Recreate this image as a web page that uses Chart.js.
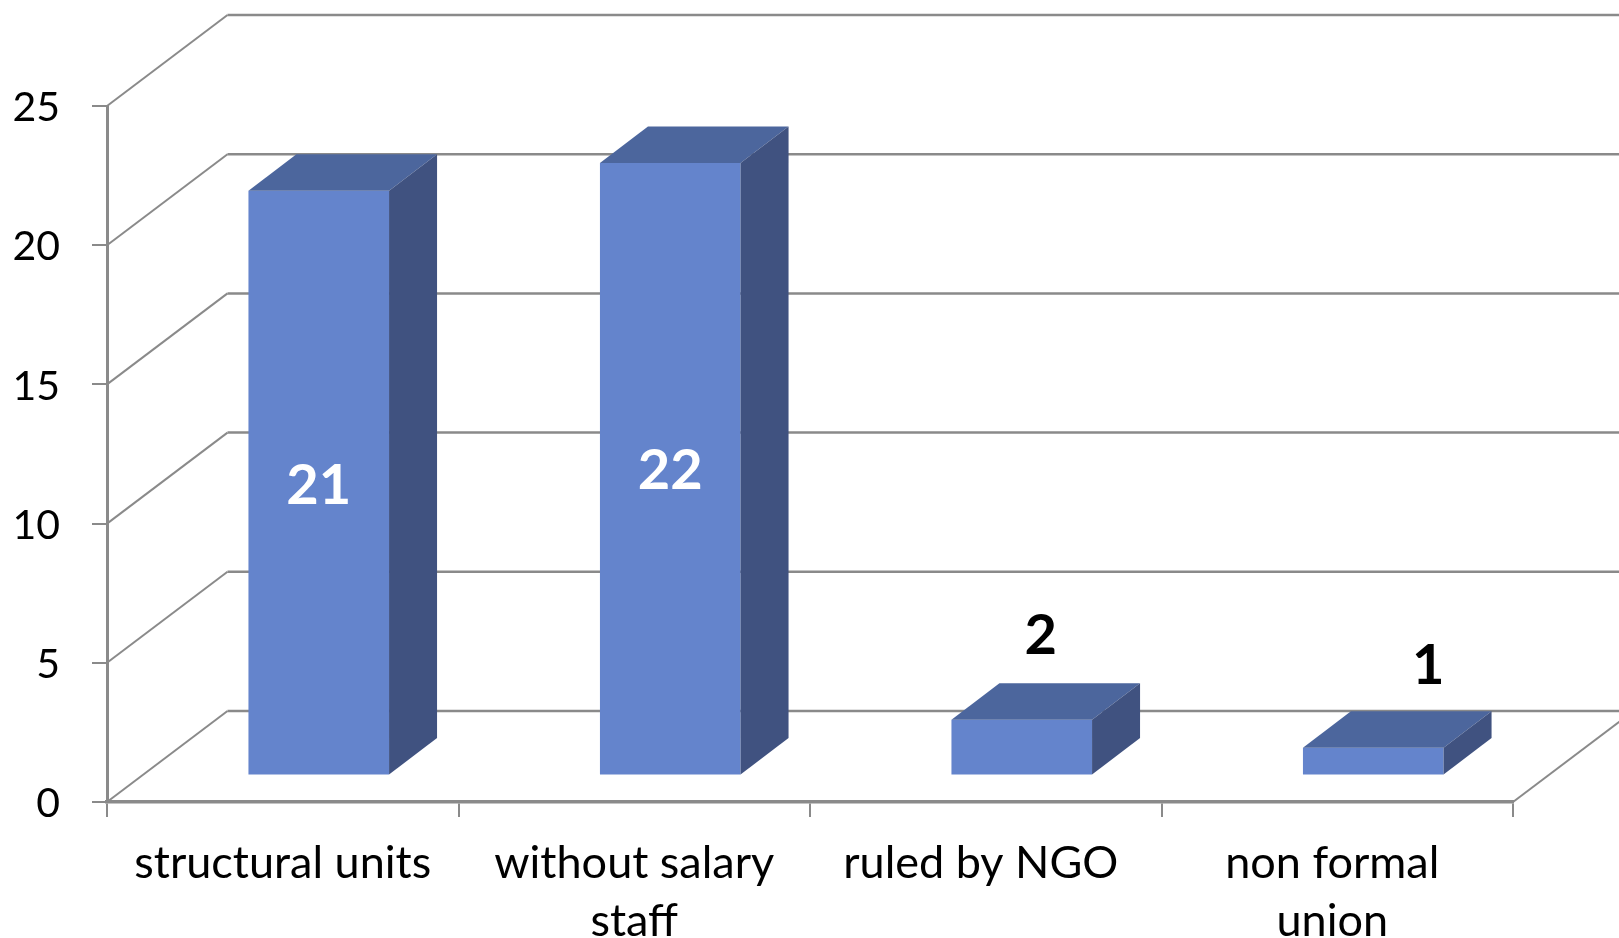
<!DOCTYPE html>
<html>
<head>
<meta charset="utf-8">
<title>Chart</title>
<script src="https://cdn.jsdelivr.net/npm/chart.js@4/dist/chart.umd.js"></script>
<style>
  html, body { margin: 0; padding: 0; background: #fff; overflow: hidden; }
  canvas { display: block; }
</style>
</head>
<body>
<canvas id="chart" width="1619" height="938"></canvas>
<script>
const categories = [["structural units"], ["without salary", "staff"], ["ruled by NGO"], ["non formal", "union"]];
const values = [21, 22, 2, 1];
const yTicks = [0, 5, 10, 15, 20, 25];

const axisColor = "#8a8a8a";
const frontColor = "#6484CC";
const topColor = "#4C669D";
const sideColor = "#405280";

// 3d look: bars sit a bit inside the floor, walls sit further back
const barShift = { x: 36, y: -26.5 };
const barDepth = { x: 48, y: -36.5 };
const wallShift = { x: 120.5, y: -91 };
// hand placed labels in the original, offset from the bar front centre
const labelNudge = [
    { x: 0, y: 3, inside: true },
    { x: 0, y: 2, inside: true },
    { x: 19, y: -84, inside: false },
    { x: 55, y: -82, inside: false }
];
// the last two category labels sit a little left of their slot
const xLabelNudge = [0, 0, -5, -5];

const walls = {
    id: "walls",
    beforeDraw(chart) {
        chart.scales.x.getLabelItems().forEach((item, i) => {
            if (!item.nudged) {
                item.options.translation[0] += xLabelNudge[i];
                item.nudged = true;
            }
        });
    },
    beforeDatasetsDraw(chart) {
        const ctx = chart.ctx;
        const yScale = chart.scales.y;
        const left = chart.chartArea.left;
        const right = chart.chartArea.right;
        ctx.save();
        ctx.strokeStyle = axisColor;
        yTicks.forEach((tick) => {
            const py = yScale.getPixelForValue(tick);
            ctx.lineWidth = 2;
            ctx.beginPath();
            ctx.moveTo(left, py);
            ctx.lineTo(left + wallShift.x, py + wallShift.y);
            ctx.stroke();
            ctx.lineWidth = 2.5;
            ctx.beginPath();
            ctx.moveTo(left + wallShift.x, py + wallShift.y);
            ctx.lineTo(right + wallShift.x, py + wallShift.y);
            ctx.stroke();
        });
        const zero = yScale.getPixelForValue(0);
        ctx.lineWidth = 2;
        ctx.beginPath();
        ctx.moveTo(right, zero);
        ctx.lineTo(right + wallShift.x, zero + wallShift.y);
        ctx.stroke();
        ctx.restore();

        ctx.save();
        ctx.translate(barShift.x, barShift.y);
    },
    afterDatasetsDraw(chart) {
        const ctx = chart.ctx;
        ctx.restore();

        const bars = chart.getDatasetMeta(0).data;
        bars.forEach((bar, i) => {
            const x0 = bar.x - bar.width / 2 + barShift.x;
            const x1 = bar.x + bar.width / 2 + barShift.x;
            const top = bar.y + barShift.y;
            const bottom = bar.base + barShift.y;

            ctx.fillStyle = topColor;
            ctx.beginPath();
            ctx.moveTo(x0, top);
            ctx.lineTo(x0 + barDepth.x, top + barDepth.y);
            ctx.lineTo(x1 + barDepth.x, top + barDepth.y);
            ctx.lineTo(x1, top);
            ctx.closePath();
            ctx.fill();

            ctx.fillStyle = sideColor;
            ctx.beginPath();
            ctx.moveTo(x1, top);
            ctx.lineTo(x1 + barDepth.x, top + barDepth.y);
            ctx.lineTo(x1 + barDepth.x, bottom + barDepth.y);
            ctx.lineTo(x1, bottom);
            ctx.closePath();
            ctx.fill();

            const nudge = labelNudge[i];
            const lx = (x0 + x1) / 2 + nudge.x;
            const ly = nudge.inside ? (top + bottom) / 2 + nudge.y : top + nudge.y;
            ctx.fillStyle = nudge.inside ? "#fff" : "#000";
            ctx.font = "bold 56px Lato";
            ctx.textAlign = "center";
            ctx.textBaseline = "middle";
            ctx.fillText(String(values[i]), lx, ly);
        });
    }
};

new Chart(document.getElementById("chart"), {
    type: "bar",
    data: {
        labels: categories,
        datasets: [{
            data: values,
            backgroundColor: frontColor,
            borderWidth: 0,
            barPercentage: 0.4,
            categoryPercentage: 1,
            clip: false
        }]
    },
    options: {
        responsive: false,
        animation: false,
        layout: { padding: { top: 106, right: 106, left: 0, bottom: 0 } },
        plugins: { legend: { display: false }, tooltip: { enabled: false } },
        scales: {
            x: {
                afterFit(scale) { scale.height = 136; },
                grid: {
                    offset: true,
                    drawOnChartArea: false,
                    color: axisColor,
                    lineWidth: 2,
                    tickLength: 15
                },
                border: { color: axisColor, width: 3.5 },
                ticks: {
                    autoSkip: false,
                    maxRotation: 0,
                    padding: 17.5,
                    color: "#000",
                    font: { family: "Lato", size: 45, lineHeight: 1.285 }
                }
            },
            y: {
                min: 0,
                max: 25,
                afterFit(scale) { scale.width = 107; },
                afterBuildTicks(scale) { scale.ticks = yTicks.map((v) => ({ value: v })); },
                grid: {
                    drawOnChartArea: false,
                    color: axisColor,
                    lineWidth: 2,
                    tickLength: 15
                },
                border: { color: axisColor, width: 3 },
                ticks: {
                    padding: 32,
                    labelOffset: 2,
                    color: "#000",
                    font: { family: "Lato", size: 41 }
                }
            }
        }
    },
    plugins: [walls]
});
</script>
</body>
</html>
